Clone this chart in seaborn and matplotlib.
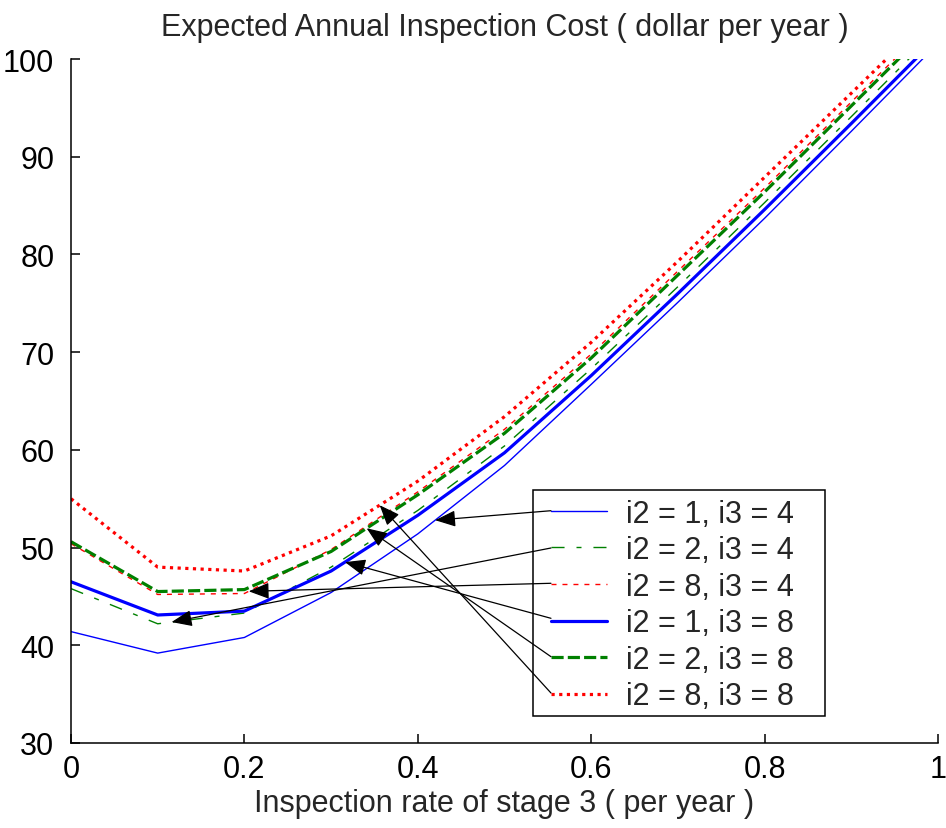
import matplotlib
matplotlib.use("Agg")
import numpy as np
import pandas as pd
import matplotlib.pyplot as plt
import seaborn as sns
from matplotlib.patches import Rectangle

# Inspection rate of stage 3 (per year)
rate = [0.0, 0.1, 0.2, 0.3, 0.4, 0.5, 0.6, 0.7, 0.8, 0.9, 1.0]

# Expected annual inspection cost (dollar per year) for each (i2, i3) pair
cost_i2_1_i3_4 = [41.4, 39.2, 40.8, 45.4, 51.4, 58.4, 66.7, 75.1, 83.7, 92.6, 101.6]
cost_i2_2_i3_4 = [45.8, 42.2, 43.3, 48.0, 53.8, 60.4, 68.3, 76.7, 85.3, 94.1, 103.0]
cost_i2_8_i3_4 = [50.4, 45.2, 45.3, 49.8, 55.7, 62.1, 69.8, 78.3, 86.8, 95.6, 104.4]
cost_i2_1_i3_8 = [46.5, 43.1, 43.5, 47.6, 53.3, 59.7, 67.6, 76.0, 84.6, 93.4, 102.3]
cost_i2_2_i3_8 = [50.6, 45.5, 45.7, 49.6, 55.4, 61.7, 69.4, 77.9, 86.4, 95.2, 104.0]
cost_i2_8_i3_8 = [55.0, 48.0, 47.6, 51.2, 56.8, 63.4, 71.0, 79.3, 87.9, 96.5, 105.1]

labels = ["i2 = 1, i3 = 4", "i2 = 2, i3 = 4", "i2 = 8, i3 = 4",
          "i2 = 1, i3 = 8", "i2 = 2, i3 = 8", "i2 = 8, i3 = 8"]
series = [cost_i2_1_i3_4, cost_i2_2_i3_4, cost_i2_8_i3_4,
          cost_i2_1_i3_8, cost_i2_2_i3_8, cost_i2_8_i3_8]

# rate at which each legend arrow meets its curve
arrow_rate = [0.42, 0.116, 0.205, 0.316, 0.341, 0.356]

BLUE, GREEN, RED = "#0000ff", "#008000", "#ff0000"
styles = [
    dict(color=BLUE, linewidth=1.0, linestyle="-"),
    dict(color=GREEN, linewidth=1.0, linestyle=(0, (9.4, 8.6, 3.6, 8.6))),
    dict(color=RED, linewidth=1.0, linestyle=(0, (3.6, 4.3))),
    dict(color=BLUE, linewidth=2.3, linestyle="-"),
    dict(color=GREEN, linewidth=2.3, linestyle=(0, (3.8, 1.3))),
    dict(color=RED, linewidth=2.3, linestyle=(0, (1.0, 1.4))),
]

sns.set_style("ticks")
plt.rcParams["font.family"] = ["Liberation Sans", "DejaVu Sans"]
FS = 22

fig = plt.figure(figsize=(9.46, 8.29), dpi=100)
ax = fig.add_axes([71 / 946, 85 / 829, 867 / 946, 684 / 829])

df = pd.DataFrame({"rate": rate})
for lab, vals, st in zip(labels, series, styles):
    df[lab] = vals
    sns.lineplot(data=df, x="rate", y=lab, ax=ax, **st)

handles = ax.get_lines()[: len(labels)]

ax.set_xlim(0, 1)
ax.set_ylim(30, 100)
ax.set_xticks([0, 0.2, 0.4, 0.6, 0.8, 1.0])
ax.set_xticklabels(["0", "0.2", "0.4", "0.6", "0.8", "1"])
ax.set_yticks(np.arange(30, 101, 10))
ax.tick_params(direction="in", length=6.5, width=1.1, labelsize=FS, colors="black")
ax.tick_params(axis="x", pad=8)
ax.tick_params(axis="y", pad=12)
for side in ("top", "right"):
    ax.spines[side].set_visible(False)
for side in ("left", "bottom"):
    ax.spines[side].set_linewidth(1.1)
    ax.spines[side].set_color("black")

ax.set_title("Expected Annual Inspection Cost ( dollar per year )", fontsize=FS, pad=17)
ax.set_xlabel("Inspection rate of stage 3 ( per year )", fontsize=FS, labelpad=3)
ax.set_ylabel("")

# legend frame
ax.add_patch(Rectangle((0.5325, 0.0399), 0.3372, 0.3304, transform=ax.transAxes,
                       facecolor="white", edgecolor="black", linewidth=1.1, zorder=4))

leg_x = 0.5536
leg = ax.legend(handles, labels, loc="upper left", bbox_to_anchor=(leg_x, 0.3574),
                borderaxespad=0, borderpad=0, frameon=False, handlelength=1.85,
                handletextpad=0.6, labelspacing=0.215, fontsize=FS)
leg.set_zorder(5)

# arrows from each legend sample to its curve
row_y = [0.3396, 0.2851, 0.2335, 0.1823, 0.1262, 0.0731]
for vals, r, yy in zip(series, arrow_rate, row_y):
    tip = (r, float(np.interp(r, rate, vals)))
    ax.annotate("", xy=tip, xycoords="data", xytext=(leg_x, yy), textcoords="axes fraction",
                arrowprops=dict(arrowstyle="-|>,head_length=0.7,head_width=0.28",
                                color="black", lw=0.9, mutation_scale=18,
                                shrinkA=0, shrinkB=0),
                zorder=6)

fig.savefig("out.png", dpi=100)
